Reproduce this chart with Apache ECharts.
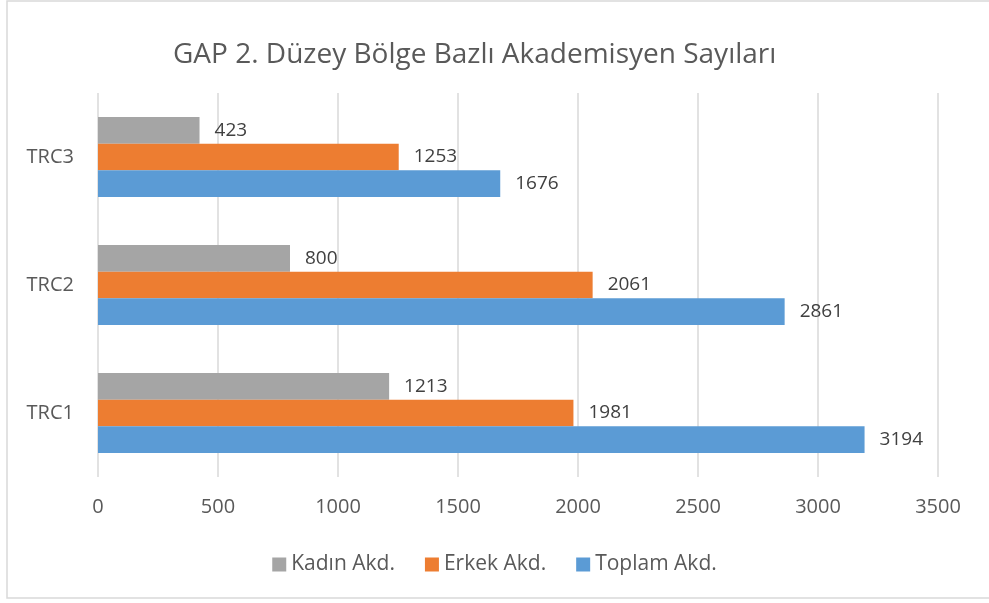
<!DOCTYPE html>
<html>
<head>
<meta charset="utf-8">
<script src="https://cdn.jsdelivr.net/npm/echarts@6/dist/echarts.min.js"></script>
<style>
  html, body { margin: 0; padding: 0; background: #fff; }
  #chart { width: 989px; height: 603px; }
</style>
</head>
<body>
<div id="chart"></div>
<script>
const categories = ['TRC1', 'TRC2', 'TRC3'];
const kadin = [1213, 800, 423];
const erkek = [1981, 2061, 1253];
const toplam = [3194, 2861, 1676];
const xTicks = [0, 3500, 500]; // min, max, interval

const textColor = '#595959';
const fontFamily = '"Open Sans", "Noto Sans", sans-serif';

const chart = echarts.init(document.getElementById('chart'));

function barSeries(name, data, color) {
  return {
    name: name,
    type: 'bar',
    data: data,
    barGap: '0%',
    barCategoryGap: '37.5%',
    itemStyle: { color: color },
    label: {
      show: true,
      position: 'right',
      distance: 15,
      color: '#404040',
      fontSize: 19,
      fontFamily: fontFamily
    }
  };
}

const option = {
  backgroundColor: '#fff',
  animation: false,
  title: {
    text: 'GAP 2. Düzey Bölge Bazlı Akademisyen Sayıları',
    left: 168,
    top: 36,
    textStyle: { color: textColor, fontSize: 28, fontWeight: 'normal', fontFamily: fontFamily }
  },
  legend: {
    data: ['Kadın Akd.', 'Erkek Akd.', 'Toplam Akd.'],
    top: 549,
    left: 'center',
    icon: 'rect',
    itemWidth: 14,
    itemHeight: 14,
    itemGap: 30,
    textStyle: { color: textColor, fontSize: 21, fontFamily: fontFamily }
  },
  grid: { left: 98, right: 51, top: 93, bottom: 126 },
  xAxis: {
    type: 'value',
    min: xTicks[0],
    max: xTicks[1],
    interval: xTicks[2],
    axisLine: { show: false },
    axisTick: { show: false },
    splitLine: { lineStyle: { color: '#D9D9D9', width: 1.5 } },
    axisLabel: { color: textColor, fontSize: 20, margin: 20, fontFamily: fontFamily, formatter: v => String(v) }
  },
  yAxis: {
    type: 'category',
    data: categories,
    axisLine: { show: false },
    axisTick: { show: false },
    axisLabel: { color: textColor, fontSize: 20, margin: 24, fontFamily: fontFamily }
  },
  graphic: [{
    type: 'rect',
    shape: { x: 7, y: 1, width: 1200, height: 597 },
    style: { fill: null, stroke: '#D9D9D9', lineWidth: 1.5 },
    silent: true
  }],
  series: [
    barSeries('Kadın Akd.', kadin, '#A5A5A5'),
    barSeries('Erkek Akd.', erkek, '#ED7D31'),
    barSeries('Toplam Akd.', toplam, '#5B9BD5')
  ]
};

chart.setOption(option);
</script>
</body>
</html>
